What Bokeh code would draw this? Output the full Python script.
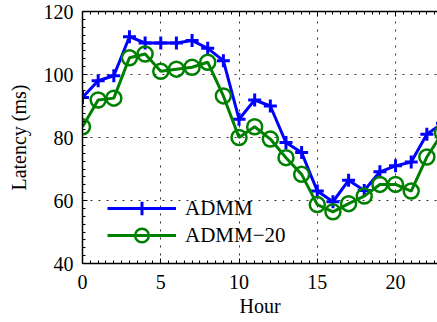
from bokeh.plotting import figure
from bokeh.models import (LinearAxis, SingleIntervalTicker, Range1d, Legend, LegendItem)
from bokeh.embed import file_html
from bokeh.resources import INLINE

hours = list(range(24))
admm = [92.7, 98.0, 99.6, 112.0, 110.0, 110.0, 110.0, 110.8, 108.3, 104.4, 85.8, 91.9,
        90.0, 78.4, 75.2, 63.0, 59.6, 66.4, 63.2, 69.1, 71.0, 72.2, 81.0, 84.5]
admm20 = [83.4, 91.9, 92.5, 105.3, 106.5, 101.0, 101.7, 102.3, 103.9, 93.2, 80.0, 83.4,
          79.5, 73.6, 68.3, 58.7, 56.4, 59.0, 61.4, 65.1, 65.1, 63.0, 73.8, 81.5]
x_label = "Hour"
y_label = "Latency (ms)"
names = ["ADMM", "ADMM\u221220"]

FONT = "Liberation Serif"

p = figure(width=437, height=322, output_backend="svg", toolbar_location=None,
           x_range=Range1d(0, 22.68), y_range=Range1d(40, 120),
           x_axis_location=None, y_axis_location=None,
           min_border_left=82, min_border_right=0, min_border_top=11, min_border_bottom=59)
p.outline_line_color = None
p.background_fill_color = "white"
p.border_fill_color = "white"

xt = SingleIntervalTicker(interval=5, num_minor_ticks=10)
yt = SingleIntervalTicker(interval=20, num_minor_ticks=8)

def style(ax, show_labels=True):
    ax.axis_line_color = "black"
    ax.axis_line_width = 1.5
    ax.major_tick_in = 5
    ax.major_tick_out = 0
    ax.minor_tick_in = 3
    ax.minor_tick_out = 0
    ax.major_tick_line_color = "black"
    ax.minor_tick_line_color = "black"
    ax.major_label_text_font = FONT
    ax.major_label_text_font_size = "20px"
    ax.major_label_text_color = "black" if show_labels else None
    ax.axis_label_text_font = FONT
    ax.axis_label_text_font_size = "20px"
    ax.axis_label_text_font_style = "normal"
    ax.axis_label_text_color = "black"

xb = LinearAxis(ticker=xt, axis_label=x_label)
style(xb)
xb.major_label_standoff = 11
xb.axis_label_standoff = 3
p.add_layout(xb, "below")

yl = LinearAxis(ticker=yt, axis_label=y_label)
style(yl)
yl.major_label_standoff = 9
yl.axis_label_standoff = 11
p.add_layout(yl, "left")

xa = LinearAxis(ticker=xt)
style(xa, False)
xa.major_label_standoff = 0
p.add_layout(xa, "above")

p.xgrid.ticker = xt
p.ygrid.ticker = yt
for g in (p.xgrid, p.ygrid):
    g.grid_line_color = "#333333"
    g.grid_line_dash = "2 6"
    g.grid_line_width = 1

l1 = p.line(hours, admm, line_color="#0000ff", line_width=3)
s1 = p.scatter(hours, admm, marker="cross", size=13, line_color="#0000ff", line_width=3)
l2 = p.line(hours, admm20, line_color="#008000", line_width=3)
s2 = p.scatter(hours, admm20, marker="circle", size=15, line_color="#008000",
               fill_color=None, line_width=2.5)

def make_legend(label, rends, yoff):
    lg = Legend(items=[LegendItem(label=label, renderers=rends)], location=(25, yoff))
    lg.background_fill_alpha = 0
    lg.border_line_color = None
    lg.glyph_width = 69
    lg.glyph_height = 34
    lg.spacing = 0
    lg.padding = 0
    lg.margin = 0
    lg.label_standoff = 9
    lg.label_text_font = FONT
    lg.label_text_font_size = "21px"
    lg.label_text_color = "black"
    lg.label_height = 34
    return lg

p.add_layout(make_legend(names[0], [l1, s1], 38), "center")
p.add_layout(make_legend(names[1], [l2, s2], 11), "center")

open("out.html", "w").write(file_html(p, INLINE))
